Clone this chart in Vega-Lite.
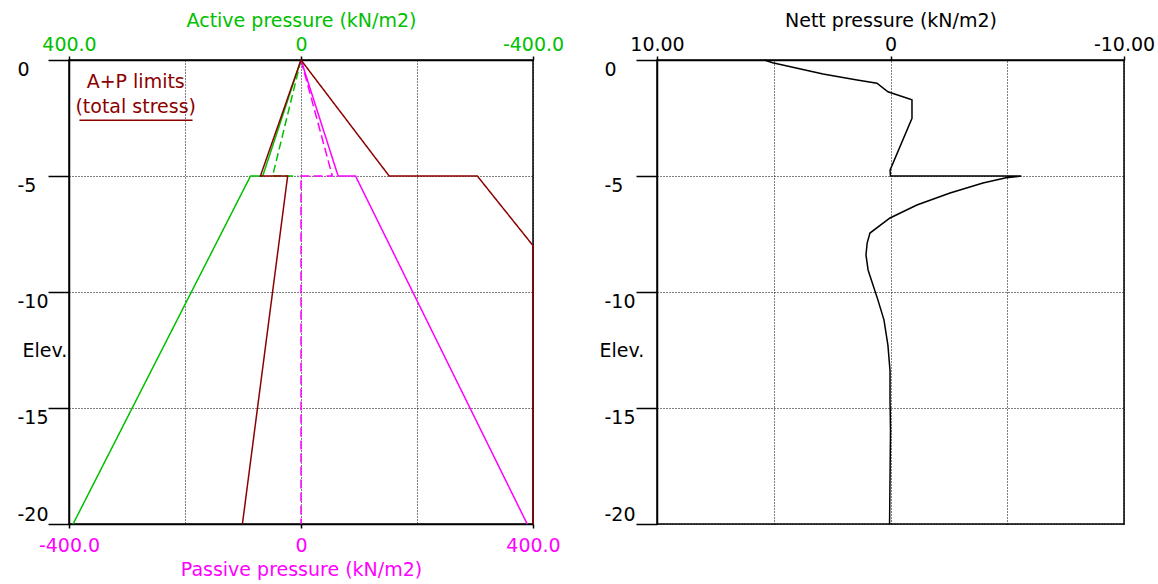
{
  "$schema": "https://vega.github.io/schema/vega-lite/v6.json",
  "padding": {"left": 16, "top": 10, "right": 0, "bottom": 0},
  "background": "#ffffff",
  "config": {
    "view": {"stroke": "#000", "strokeWidth": 1.5},
    "font": "DejaVu Sans",
    "axis": {
      "labelFont": "DejaVu Sans", "labelFontSize": 19, "titleFont": "DejaVu Sans", "titleFontSize": 19, "titleFontWeight": "normal",
      "domainColor": "#000", "domainWidth": 1.5, "tickColor": "#000", "tickWidth": 1.5,
      "gridColor": "#000", "gridDash": [1, 2], "gridOpacity": 1, "gridWidth": 1, "labelFlush": false, "labelOverlap": false
    }
  },
  "datasets": {
    "press": [
      {"s": "gs", "i": 0, "p": 0, "e": 0}, {"s": "gs", "i": 1, "p": 66, "e": -5}, {"s": "gs", "i": 2, "p": 87, "e": -5}, {"s": "gs", "i": 3, "p": 393, "e": -20},
      {"s": "gd", "i": 0, "p": 0, "e": 0}, {"s": "gd", "i": 1, "p": 49, "e": -5}, {"s": "gd", "i": 2, "p": 6, "e": -5},
      {"s": "ms", "i": 0, "p": 0, "e": 0}, {"s": "ms", "i": 1, "p": 64, "e": -5}, {"s": "ms", "i": 2, "p": 94, "e": -5}, {"s": "ms", "i": 3, "p": 390, "e": -20},
      {"s": "md", "i": 0, "p": 0, "e": 0}, {"s": "md", "i": 1, "p": 54, "e": -5}, {"s": "md", "i": 2, "p": 0, "e": -5}, {"s": "md", "i": 3, "p": 0, "e": -20},
      {"s": "bl", "i": 0, "p": 0, "e": 0}, {"s": "bl", "i": 1, "p": -70, "e": -5}, {"s": "bl", "i": 2, "p": -23, "e": -5}, {"s": "bl", "i": 3, "p": -101, "e": -20},
      {"s": "br", "i": 0, "p": 0, "e": 0}, {"s": "br", "i": 1, "p": 152, "e": -5}, {"s": "br", "i": 2, "p": 304, "e": -5}, {"s": "br", "i": 3, "p": 400, "e": -8}, {"s": "br", "i": 4, "p": 400, "e": -20}
    ],
    "note": [
      {"t": "A+P limits", "p": -285, "e": -0.95},
      {"t": "(total stress)", "p": -285, "e": -2.03}
    ],
    "underline": [
      {"p": -382, "p2": -187, "e": -2.6}
    ],
    "nett": [
      {"i": 0, "n": 5.4, "e": 0}, {"i": 1, "n": 5.05, "e": -0.12}, {"i": 2, "n": 2.89, "e": -0.6}, {"i": 3, "n": 1.43, "e": -0.86},
      {"i": 4, "n": 0.58, "e": -1.0}, {"i": 5, "n": 0.11, "e": -1.37}, {"i": 6, "n": -0.92, "e": -1.72}, {"i": 7, "n": -0.92, "e": -2.51},
      {"i": 8, "n": 0.02, "e": -4.75}, {"i": 9, "n": 0, "e": -5}, {"i": 10, "n": -5.6, "e": -5}, {"i": 11, "n": -4.95, "e": -5.08},
      {"i": 12, "n": -3.96, "e": -5.3}, {"i": 13, "n": -2.55, "e": -5.73}, {"i": 14, "n": -1.13, "e": -6.25}, {"i": 15, "n": 0.02, "e": -6.81},
      {"i": 16, "n": 0.88, "e": -7.46}, {"i": 17, "n": 1.0, "e": -7.89}, {"i": 18, "n": 1.05, "e": -8.4}, {"i": 19, "n": 0.96, "e": -9.05},
      {"i": 20, "n": 0.75, "e": -9.7}, {"i": 21, "n": 0.54, "e": -10.34}, {"i": 22, "n": 0.28, "e": -11.2}, {"i": 23, "n": 0.11, "e": -12.3},
      {"i": 24, "n": 0.02, "e": -13.4}, {"i": 25, "n": 0.02, "e": -14.65}, {"i": 26, "n": 0, "e": -16}, {"i": 27, "n": 0.04, "e": -20}
    ]
  },
  "spacing": 124,
  "bounds": "flush",
  "hconcat": [
    {
      "width": 464,
      "height": 464,
      "resolve": {"scale": {"x": "independent"}, "axis": {"x": "independent"}},
      "layer": [
        {
          "data": {"name": "press"},
          "transform": [{"filter": "datum.s == 'gs' || datum.s == 'gd'"}, {"calculate": "datum.p * 1", "as": "active"}],
          "mark": {"type": "line", "strokeWidth": 1.5},
          "encoding": {
            "x": {"field": "active", "type": "quantitative", "scale": {"domain": [400, -400], "nice": false, "zero": false},
              "axis": {"orient": "top", "values": [400, 0, -400], "grid": false, "tickSize": 4, "labelPadding": 2,
                "labelExpr": "datum.value == 0 ? '0' : (datum.value < 0 ? '-' : '') + format(abs(datum.value), '.1f')",
                "labelColor": "#00C000", "title": "Active pressure (kN/m2)", "titleColor": "#00C000", "titlePadding": 5}},
            "y": {"field": "e", "type": "quantitative", "scale": {"domain": [-20, 0], "nice": false, "zero": false},
              "axis": {"values": [0, -5, -10, -15, -20], "tickSize": 21, "labelPadding": 31, "labelAlign": "left",
                "labelBaseline": {"condition": {"test": "datum.value == -20", "value": "bottom"}, "value": "top"},
                "labelExpr": "'' + datum.value",
                "labelColor": "#000", "title": "Elev.", "titleAngle": 0, "titleX": -47, "titleY": 290, "titleAlign": "left", "titleBaseline": "middle", "titleColor": "#000"}},
            "detail": {"field": "s"},
            "order": {"field": "i", "type": "quantitative"},
            "color": {"field": "s", "type": "nominal", "scale": {"domain": ["gs", "gd", "ms", "md", "bl", "br"], "range": ["#00C000", "#00C000", "#FF00FF", "#FF00FF", "#8B0000", "#8B0000"]}, "legend": null},
            "strokeDash": {"field": "s", "type": "nominal", "scale": {"domain": ["gs", "gd", "ms", "md", "bl", "br"], "range": [[1, 0], [8, 4], [1, 0], [9, 4], [1, 0], [1, 0]]}, "legend": null}
          }
        },
        {
          "layer": [
            {
              "data": {"name": "press"},
              "transform": [{"filter": "datum.s != 'gs' && datum.s != 'gd'"}],
              "mark": {"type": "line", "strokeWidth": 1.5},
              "encoding": {
                "x": {"field": "p", "type": "quantitative", "scale": {"domain": [-400, 400], "nice": false, "zero": false},
                  "axis": {"orient": "bottom", "values": [-400, -200, 0, 200, 400], "grid": true, "tickSize": 4, "labelPadding": 8,
                    "tickOpacity": {"condition": {"test": "abs(datum.value) == 200", "value": 0}, "value": 1},
                    "labelExpr": "abs(datum.value) == 200 ? '' : datum.value == 0 ? '0' : (datum.value < 0 ? '-' : '') + format(abs(datum.value), '.1f')",
                    "labelColor": "#FF00FF", "title": "Passive pressure (kN/m2)", "titleColor": "#FF00FF", "titlePadding": 5}},
                "y": {"field": "e", "type": "quantitative"},
                "detail": {"field": "s"},
                "order": {"field": "i", "type": "quantitative"},
                "color": {"field": "s", "type": "nominal", "scale": {"domain": ["gs", "gd", "ms", "md", "bl", "br"], "range": ["#00C000", "#00C000", "#FF00FF", "#FF00FF", "#8B0000", "#8B0000"]}, "legend": null},
                "strokeDash": {"field": "s", "type": "nominal", "scale": {"domain": ["gs", "gd", "ms", "md", "bl", "br"], "range": [[1, 0], [8, 4], [1, 0], [9, 4], [1, 0], [1, 0]]}, "legend": null}
              }
            },
            {
              "data": {"name": "note"},
              "mark": {"type": "text", "font": "DejaVu Sans", "fontSize": 19, "color": "#8B0000", "align": "center", "baseline": "middle"},
              "encoding": {
                "x": {"field": "p", "type": "quantitative"},
                "y": {"field": "e", "type": "quantitative"},
                "text": {"field": "t"}
              }
            },
            {
              "data": {"name": "underline"},
              "mark": {"type": "rule", "color": "#8B0000", "strokeWidth": 1.5},
              "encoding": {
                "x": {"field": "p", "type": "quantitative"},
                "x2": {"field": "p2"},
                "y": {"field": "e", "type": "quantitative"}
              }
            }
          ]
        }
      ]
    },
    {
      "width": 467,
      "height": 464,
      "data": {"name": "nett"},
      "mark": {"type": "line", "strokeWidth": 1.5, "color": "#000"},
      "encoding": {
        "x": {"field": "n", "type": "quantitative", "scale": {"domain": [10, -10], "nice": false, "zero": false},
          "axis": {"orient": "top", "values": [10, 5, 0, -5, -10], "grid": true, "tickSize": 4, "labelPadding": 2,
            "tickOpacity": {"condition": {"test": "abs(datum.value) == 5", "value": 0}, "value": 1},
            "labelExpr": "abs(datum.value) == 5 ? '' : datum.value == 0 ? '0' : (datum.value < 0 ? '-' : '') + format(abs(datum.value), '.2f')",
            "labelColor": "#000", "title": "Nett pressure (kN/m2)", "titleColor": "#000", "titlePadding": 5}},
        "y": {"field": "e", "type": "quantitative", "scale": {"domain": [-20, 0], "nice": false, "zero": false},
          "axis": {"values": [0, -5, -10, -15, -20], "tickSize": 21, "labelPadding": 32, "labelAlign": "left",
            "labelBaseline": {"condition": {"test": "datum.value == -20", "value": "bottom"}, "value": "top"},
            "labelExpr": "'' + datum.value",
            "labelColor": "#000", "title": "Elev.", "titleAngle": 0, "titleX": -58, "titleY": 290, "titleAlign": "left", "titleBaseline": "middle", "titleColor": "#000"}},
        "order": {"field": "i", "type": "quantitative"}
      }
    }
  ]
}
